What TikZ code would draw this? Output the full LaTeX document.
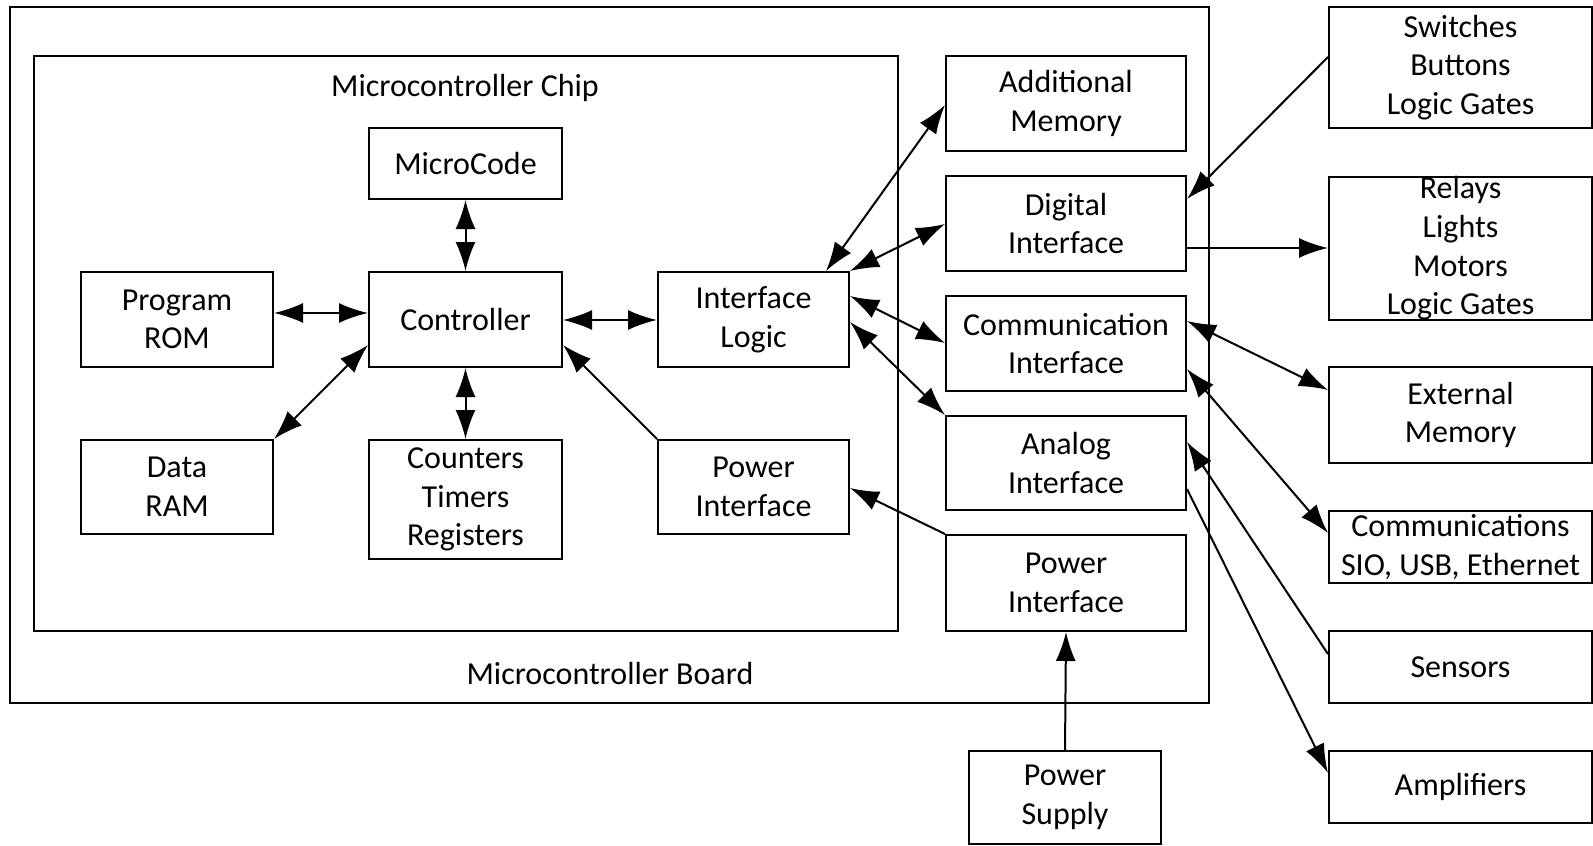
\documentclass[tikz,border=0pt]{standalone}
\usepackage{fontspec}
\setmainfont{Carlito}
\usetikzlibrary{arrows.meta}
\begin{document}
\begin{tikzpicture}[x=0.5pt,y=-0.5pt,
  box/.style 2 args={draw, line width=1pt, minimum width=#1*0.5pt, minimum height=#2*0.5pt, inner sep=0pt, align=center, font=\fontsize{16}{19.3}\selectfont},
  lbl/.style={inner sep=0pt, font=\fontsize{16}{19.3}\selectfont},
  conn/.style={line width=1pt, -{Latex[length=14.5pt,width=10pt]}},
  bconn/.style={line width=1pt, {Latex[length=14.5pt,width=10pt]}-{Latex[length=14.5pt,width=10pt]}}]
\useasboundingbox (0,0) rectangle (1593,845);
% containers
\node[box={1199}{696}] (board) at (609.5,355) {};
\node[box={864}{575}] (chip) at (466,343.5) {};
\node[lbl] (chiplbl) at (465,88) {Microcontroller Chip};
\node[lbl] (boardlbl) at (610,673) {Microcontroller Board};
% chip blocks
\node[box={193}{71}] (micro) at (465.5,163.5) {MicroCode};
\node[box={192}{95}] (rom) at (177,319.5) {Program\\ROM};
\node[box={193}{95}] (ctrl) at (465.5,319.5) {Controller};
\node[box={191}{95}] (il) at (753.5,319.5) {Interface\\Logic};
\node[box={192}{94}] (ram) at (177,487) {Data\\RAM};
\node[box={193}{119}] (cnt) at (465.5,499.5) {Counters\\Timers\\Registers};
\node[box={191}{94}] (pwi) at (753.5,487) {Power\\Interface};
% board blocks
\node[box={240}{95}] (addm) at (1066,103.5) {Additional\\Memory};
\node[box={240}{95}] (dig) at (1066,223.5) {Digital\\Interface};
\node[box={240}{95}] (comm) at (1066,343.5) {Communication\\Interface};
\node[box={240}{94}] (ana) at (1066,463) {Analog\\Interface};
\node[box={240}{96}] (pwr) at (1066,583) {Power\\Interface};
\node[box={192}{93}] (psu) at (1065,797.5) {Power\\Supply};
% external
\node[box={263}{121}] (sw) at (1460.5,67.5) {Switches\\Buttons\\Logic Gates};
\node[box={263}{143}] (rel) at (1460.5,248.5) {Relays\\Lights\\Motors\\Logic Gates};
\node[box={263}{96}] (ext) at (1460.5,415) {External\\Memory};
\node[box={263}{72}] (coms) at (1460.5,547) {Communications\\SIO, USB, Ethernet};
\node[box={263}{72}] (sens) at (1460.5,667) {Sensors};
\node[box={263}{72}] (amp) at (1460.5,787) {Amplifiers};
% connectors
\draw[bconn] (micro.south) -- (ctrl.north);
\draw[bconn] (rom.east |- 0,313) -- (ctrl.west |- 0,313);
\draw[bconn] (ctrl.east |- 0,320) -- (il.west |- 0,320);
\draw[bconn] (ram.north east) -- (ctrl.west |- 0,345);
\draw[bconn] (ctrl.south) -- (cnt.north);
\draw[conn] (pwi.north west) -- (ctrl.east |- 0,345);
\draw[bconn] (il.north -| 826,0) -- (addm.west |- 0,105);
\draw[bconn] (il.north east) -- (dig.west |- 0,224);
\draw[bconn] (il.east |- 0,296) -- (comm.west |- 0,343);
\draw[bconn] (il.east |- 0,322) -- (ana.north west);
\draw[conn] (pwr.north west) -- (pwi.east |- 0,488);
\draw[conn] (psu.north) -- (pwr.south);
\draw[conn] (sw.west |- 0,57) -- (dig.east |- 0,199);
\draw[conn] (dig.east |- 0,248) -- (rel.west |- 0,248);
\draw[bconn] (comm.east |- 0,321) -- (ext.west |- 0,390);
\draw[bconn] (comm.east |- 0,369) -- (coms.west |- 0,533);
\draw[conn] (sens.west |- 0,654) -- (ana.east |- 0,442);
\draw[conn] (ana.east |- 0,489) -- (amp.west |- 0,773);
\end{tikzpicture}
\end{document}
